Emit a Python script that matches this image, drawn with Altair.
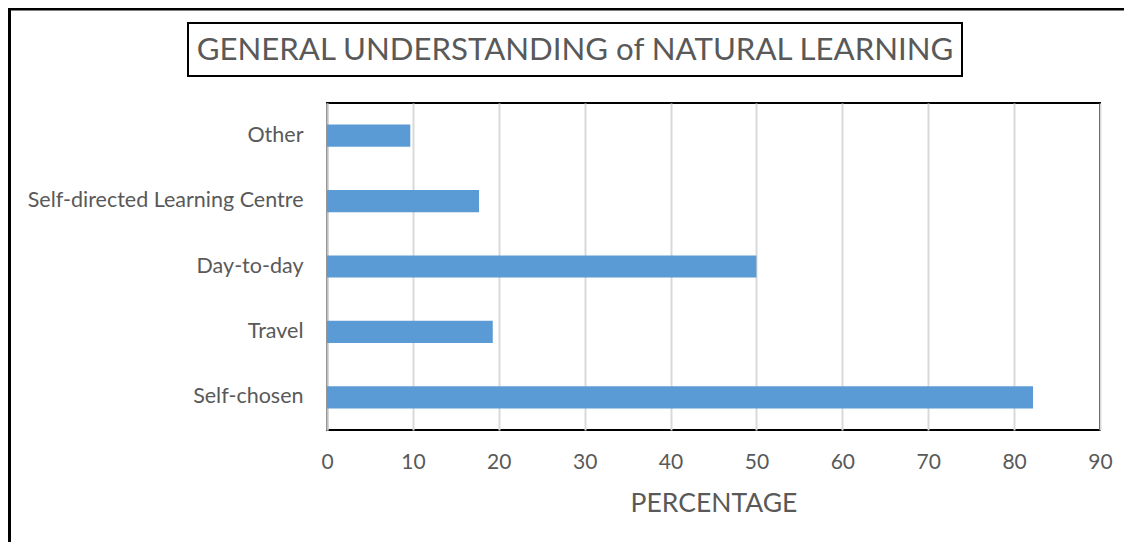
import altair as alt
import pandas as pd

categories = ["Other", "Self-directed Learning Centre", "Day-to-day", "Travel", "Self-chosen"]
values = [9.7, 17.7, 50.0, 19.3, 82.2]
x_ticks = [0, 10, 20, 30, 40, 50, 60, 70, 80, 90]
title_text = "GENERAL UNDERSTANDING of NATURAL LEARNING"
x_title = "PERCENTAGE"

FONT = "Lato"
TEXT = "#595959"

W, H = 773, 327
PL, PT, PR, PB = 319, 95, 24, 112

df = pd.DataFrame({"category": categories, "value": values})

bars = alt.Chart(df).mark_bar(color="#5B9BD5").encode(
    x=alt.X("value:Q",
            scale=alt.Scale(domain=[0, 90], nice=False),
            axis=alt.Axis(values=x_ticks, title=x_title, grid=True, gridColor="#D9D9D9",
                          gridWidth=2, domain=False, ticks=False, labelFont=FONT,
                          labelFontSize=21, labelColor=TEXT, labelPadding=21,
                          labelFlush=False,
                          titleFont=FONT, titleFontSize=26.5, titleFontWeight="normal",
                          titleColor=TEXT, titlePadding=18)),
    y=alt.Y("category:N", sort=categories,
            scale=alt.Scale(paddingInner=0.66, paddingOuter=0.33),
            axis=alt.Axis(title=None, domain=True, domainColor="#BFBFBF", domainWidth=2,
                          ticks=False, labelFont=FONT, labelFontSize=21.5, labelColor=TEXT,
                          labelPadding=24, labelLimit=0)),
)

one = pd.DataFrame({"t": [title_text]})

title_box = alt.Chart(one).mark_rect(fill=None, stroke="black", strokeWidth=2).encode(
    x=alt.value(188 - 8 - PL), x2=alt.value(962 - 8 - PL),
    y=alt.value(23 - 8 - PT), y2=alt.value(76 - 8 - PT),
)
title_mark = alt.Chart(one).mark_text(font=FONT, fontSize=31.2, color=TEXT,
                                      align="center", baseline="middle").encode(
    x=alt.value((188 + 962) / 2 - 8 - PL), y=alt.value(51 - 8 - PT), text="t:N"
)

frame_v = alt.Chart(one).mark_rule(color="black", strokeWidth=3).encode(
    x=alt.value(9.5 - 8 - PL), y=alt.value(-PT), y2=alt.value(H + PB),
)
frame_h = alt.Chart(one).mark_rule(color="black", strokeWidth=3).encode(
    y=alt.value(9 - 8 - PT), x=alt.value(-PL), x2=alt.value(W + PR),
)

chart = alt.layer(bars, title_box, title_mark, frame_v, frame_h).properties(
    width=W, height=H,
    autosize=alt.AutoSizeParams(type="none"),
    padding={"left": PL, "top": PT, "right": PR, "bottom": PB},
).configure(background="white").configure_view(stroke="black", strokeWidth=2)

chart.save("out.html", embed_options={"renderer": "svg", "actions": False})
